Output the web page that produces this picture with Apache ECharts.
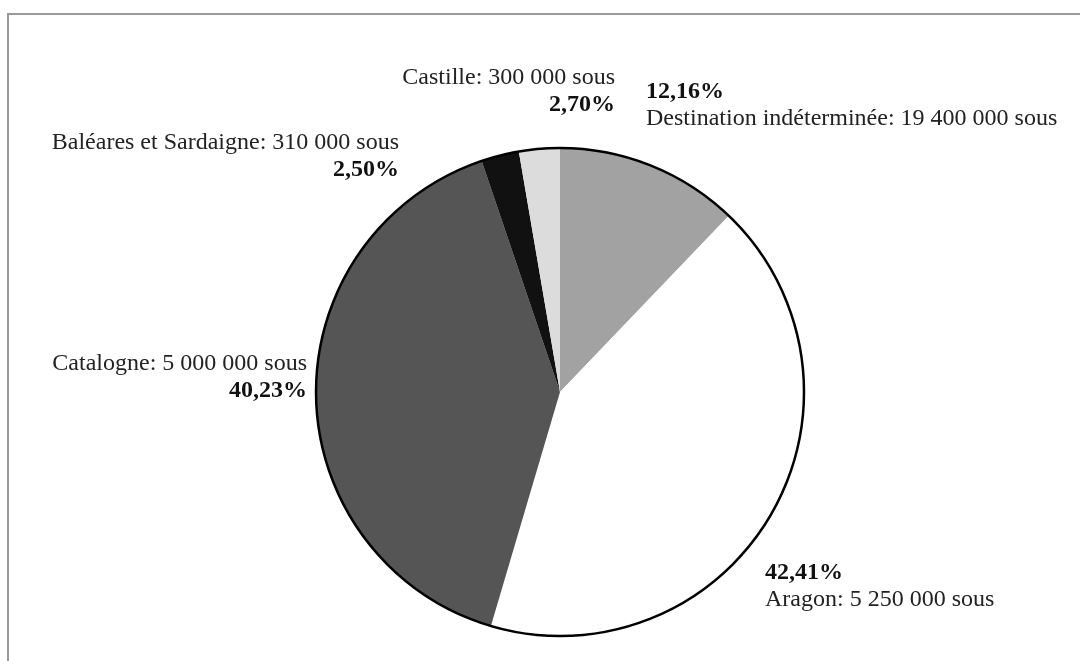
<!DOCTYPE html>
<html>
<head>
<meta charset="utf-8">
<script src="https://cdn.jsdelivr.net/npm/echarts@6/dist/echarts.min.js"></script>
<style>
html,body{margin:0;padding:0;background:#fff;}
#chart{width:1080px;height:661px;}
</style>
</head>
<body>
<div id="chart"></div>
<script>
// ---- data ----
const categories = ['Destination indéterminée', 'Aragon', 'Catalogne', 'Baléares et Sardaigne', 'Castille'];
const amounts = ['19 400 000', '5 250 000', '5 000 000', '310 000', '300 000'];
const percents = [12.16, 42.41, 40.23, 2.50, 2.70];
const unit = 'sous';

// ---- styles / layout ----
const sliceColors = ['#a2a2a2', '#ffffff', '#555555', '#111111', '#dcdcdc'];
const pctFirst = [true, true, false, false, false];
const labelPos = [
  {x: 646, y: 78, align: 'left'},
  {x: 765, y: 559, align: 'left'},
  {x: 307, y: 350, align: 'right'},
  {x: 399, y: 129, align: 'right'},
  {x: 615, y: 64, align: 'right'}
];
const fontFam = '"Liberation Serif", "DejaVu Serif", serif';

function fmtPct(v) { return v.toFixed(2).replace('.', ',') + '%'; }

const chart = echarts.init(document.getElementById('chart'), null, {renderer: 'canvas'});
chart.setOption({
  backgroundColor: '#ffffff',
  animation: false,
  graphic: [
    {type: 'polyline', shape: {points: [[8, 661], [8, 14], [1080, 14]]},
     style: {stroke: '#9a9a9a', lineWidth: 2, fill: null}, silent: true}
  ],
  series: [
    {
      type: 'pie',
      center: [560, 392],
      radius: [0, 244],
      startAngle: 90,
      clockwise: true,
      avoidLabelOverlap: false,
      itemStyle: {borderWidth: 0},
      emphasis: {disabled: true},
      labelLine: {show: false},
      label: {
        show: true,
        position: 'outside',
        fontFamily: fontFam,
        formatter: function (p) {
          const i = p.dataIndex;
          const pct = '{b|' + fmtPct(percents[i]) + '}';
          const name = '{n|' + categories[i] + ': ' + amounts[i] + ' ' + unit + '}';
          return pctFirst[i] ? pct + '\n' + name : name + '\n' + pct;
        },
        rich: {
          b: {fontFamily: fontFam, fontSize: 24, fontWeight: 'bold', color: '#111', lineHeight: 27},
          n: {fontFamily: fontFam, fontSize: 24, color: '#222', lineHeight: 27}
        }
      },
      labelLayout: function (params) {
        const lp = labelPos[params.dataIndex];
        return {x: lp.x, y: lp.y, align: lp.align, verticalAlign: 'top', hideOverlap: false};
      },
      data: categories.map((c, i) => ({
        name: c,
        value: percents[i],
        itemStyle: {color: sliceColors[i]}
      }))
    },
    {
      type: 'pie',
      center: [560, 392],
      radius: [0, 244],
      silent: true,
      label: {show: false},
      labelLine: {show: false},
      itemStyle: {color: 'rgba(0,0,0,0)', borderColor: '#000', borderWidth: 2.5},
      data: [{name: 'outline', value: 1}]
    }
  ]
});
</script>
</body>
</html>
